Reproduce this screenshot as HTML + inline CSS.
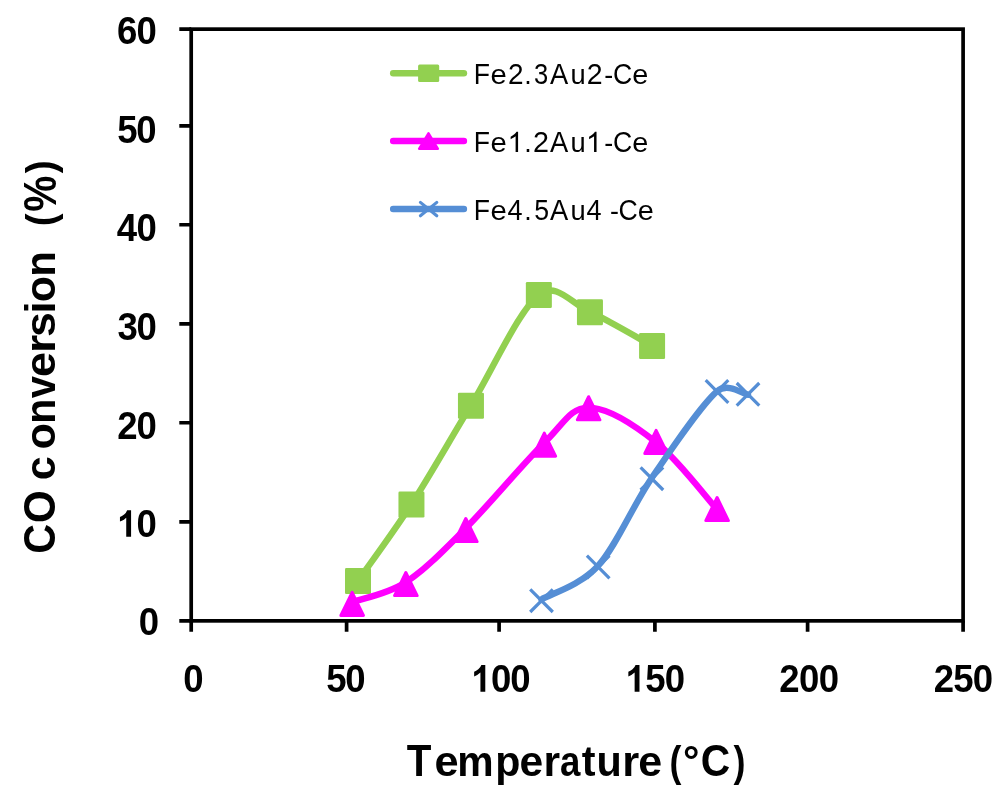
<!DOCTYPE html>
<html><head><meta charset="utf-8"><title>CO conversion vs temperature</title>
<style>
html,body{margin:0;padding:0;background:#fff;}
body{width:1000px;height:792px;overflow:hidden;font-family:"Liberation Sans",sans-serif;}
svg{display:block;position:absolute;left:0;top:0;}
text{font-family:"Liberation Sans",sans-serif;fill:#000;font-kerning:none;white-space:pre;}
.b{font-weight:bold;}
</style></head><body>
<svg width="1000" height="792" viewBox="0 0 1000 792">
<rect x="0" y="0" width="1000" height="792" fill="#fff"/>
<g stroke="#000" stroke-width="3.70" fill="none">
<rect x="191.20" y="29.15" width="771.90" height="591.70"/>
<path d="M179.3 620.85H191.20M179.3 521.90H191.20M179.3 422.75H191.20M179.3 323.90H191.20M179.3 224.75H191.20M179.3 125.85H191.20M179.3 29.15H191.20M191.20 620.85V631.8M346.60 620.85V631.8M499.10 620.85V631.8M654.90 620.85V631.8M807.60 620.85V631.8M963.10 620.85V631.8"/>
</g>
<g opacity="0.999">
<text class="b" style="font-size:38.00px" transform="scale(0.9620 1)" x="121.69 141.86" y="44.20">60</text>
<text class="b" style="font-size:38.00px" transform="scale(0.9620 1)" x="121.91 141.76" y="143.00">50</text>
<text class="b" style="font-size:38.00px" transform="scale(0.9620 1)" x="121.25 141.86" y="241.30">40</text>
<text class="b" style="font-size:38.00px" transform="scale(0.9620 1)" x="122.20 141.86" y="340.10">30</text>
<text class="b" style="font-size:38.00px" transform="scale(0.9620 1)" x="121.76 141.86" y="438.60">20</text>
<path transform="translate(117.15 536.80) scale(0.03546 -0.03704)" d="M393 0H256V517Q181 447 79 413V537Q133 555 196 604Q259 653 282 719H393Z"/><text class="b" style="font-size:38.00px" transform="scale(0.9620 1)" x="141.86" y="536.80">0</text>
<text class="b" style="font-size:38.00px" transform="scale(0.9620 1)" x="144.35" y="635.20">0</text>
<text class="b" style="font-size:38.00px" transform="scale(0.9620 1)" x="190.40" y="691.70">0</text>
<text class="b" style="font-size:38.00px" transform="scale(0.9620 1)" x="339.06 358.91" y="691.70">50</text>
<path transform="translate(471.35 691.70) scale(0.03546 -0.03704)" d="M393 0H256V517Q181 447 79 413V537Q133 555 196 604Q259 653 282 719H393Z"/><text class="b" style="font-size:38.00px" transform="scale(0.9620 1)" x="510.33 530.42" y="691.70">00</text>
<path transform="translate(625.55 691.70) scale(0.03546 -0.03704)" d="M393 0H256V517Q181 447 79 413V537Q133 555 196 604Q259 653 282 719H393Z"/><text class="b" style="font-size:38.00px" transform="scale(0.9620 1)" x="670.72 690.92" y="691.70">50</text>
<text class="b" style="font-size:38.00px" transform="scale(0.9620 1)" x="810.12 830.61 851.11" y="691.70">200</text>
<text class="b" style="font-size:38.00px" transform="scale(0.9620 1)" x="970.72 990.96 1011.19" y="691.70">250</text>
<g class="b"><text transform="translate(406.77 776.15) scale(0.927 1)" font-size="43.5">T</text><text transform="translate(434.53 776.15) scale(1.033 1)" font-size="42.0">e</text><text transform="translate(457.33 776.15) scale(0.974 1)" font-size="42.0">m</text><text transform="translate(495.31 776.15) scale(0.980 1)" font-size="42.0">p</text><text transform="translate(519.56 776.15) scale(1.013 1)" font-size="42.0">e</text><text transform="translate(543.41 776.15) scale(1.016 1)" font-size="42.0">r</text><text transform="translate(559.95 776.15) scale(0.873 1)" font-size="42.0">a</text><text transform="translate(581.72 776.15) scale(0.984 1)" font-size="42.0">t</text><text transform="translate(596.46 776.15) scale(0.984 1)" font-size="42.0">u</text><text transform="translate(622.15 776.15) scale(1.039 1)" font-size="42.0">r</text><text transform="translate(638.15 776.15) scale(1.023 1)" font-size="42.0">e</text><text transform="translate(669.58 776.15) scale(0.850 1)" font-size="42.0">(</text><text transform="translate(683.12 776.15) scale(0.978 1)" font-size="42.0">°</text><text transform="translate(700.85 776.15) scale(0.937 1)" font-size="43.5">C</text><text transform="translate(733.59 776.15) scale(0.856 1)" font-size="42.0">)</text></g>
<g class="b"><text transform="translate(55.00 553.84) rotate(-90) scale(0.924 1)" font-size="44.6">C</text><text transform="translate(55.00 522.88) rotate(-90) scale(0.945 1)" font-size="44.6">O</text><text transform="translate(55.00 480.23) rotate(-90) scale(1.001 1)" font-size="43.0">c</text><text transform="translate(55.00 449.43) rotate(-90) scale(1.002 1)" font-size="43.0">o</text><text transform="translate(55.00 423.67) rotate(-90) scale(0.958 1)" font-size="43.0">n</text><text transform="translate(55.00 398.31) rotate(-90) scale(0.930 1)" font-size="43.0">v</text><text transform="translate(55.00 377.01) rotate(-90) scale(1.045 1)" font-size="43.0">e</text><text transform="translate(55.00 353.07) rotate(-90) scale(1.083 1)" font-size="43.0">r</text><text transform="translate(55.00 336.92) rotate(-90) scale(1.042 1)" font-size="43.0">s</text><text transform="translate(55.00 313.43) rotate(-90) scale(1.000 1)" font-size="43.0">i</text><text transform="translate(55.00 302.13) rotate(-90) scale(1.000 1)" font-size="43.0">o</text><text transform="translate(55.00 276.76) rotate(-90) scale(0.973 1)" font-size="43.0">n</text><text transform="translate(55.00 226.17) rotate(-90) scale(0.942 1)" font-size="41.0">(</text><text transform="translate(56.10 211.81) rotate(-90) scale(0.883 1)" font-size="46.0">%</text><text transform="translate(55.00 173.29) rotate(-90) scale(0.942 1)" font-size="41.0">)</text></g>
<g class=""><text transform="translate(473.80 84.20) scale(0.920 1)" font-size="28.9">F</text><text transform="translate(490.42 84.20) scale(1.090 1)" font-size="26.8">e</text><text transform="translate(508.02 84.20) scale(0.968 1)" font-size="28.9">2</text><text transform="translate(524.23 84.20) scale(1.000 1)" font-size="26.8">.</text><text transform="translate(533.89 84.20) scale(0.884 1)" font-size="28.9">3</text><text transform="translate(549.91 84.20) scale(0.945 1)" font-size="28.9">A</text><text transform="translate(570.55 84.20) scale(1.020 1)" font-size="26.8">u</text><text transform="translate(586.79 84.20) scale(0.987 1)" font-size="28.9">2</text><text transform="translate(604.29 84.20) scale(1.000 1)" font-size="26.8">-</text><text transform="translate(612.97 84.20) scale(0.923 1)" font-size="28.9">C</text><text transform="translate(632.20 84.20) scale(1.077 1)" font-size="26.8">e</text></g>
<g class=""><text transform="translate(473.80 151.95) scale(0.920 1)" font-size="28.9">F</text><text transform="translate(490.42 151.95) scale(1.090 1)" font-size="26.8">e</text><path transform="translate(507.58 151.95) scale(0.02817 -0.02817)" d="M373 0H285V560Q253 530 201 500Q150 470 109 455V540Q183 575 238 624Q293 673 316 719H373Z"/><text transform="translate(524.23 151.95) scale(1.000 1)" font-size="26.8">.</text><text transform="translate(533.08 151.95) scale(0.995 1)" font-size="28.9">2</text><text transform="translate(549.91 151.95) scale(0.945 1)" font-size="28.9">A</text><text transform="translate(570.55 151.95) scale(1.020 1)" font-size="26.8">u</text><path transform="translate(586.03 151.95) scale(0.02817 -0.02817)" d="M373 0H285V560Q253 530 201 500Q150 470 109 455V540Q183 575 238 624Q293 673 316 719H373Z"/><text transform="translate(604.29 151.95) scale(1.000 1)" font-size="26.8">-</text><text transform="translate(612.97 151.95) scale(0.923 1)" font-size="28.9">C</text><text transform="translate(632.20 151.95) scale(1.077 1)" font-size="26.8">e</text></g>
<g class=""><text transform="translate(473.80 219.80) scale(0.920 1)" font-size="28.9">F</text><text transform="translate(490.42 219.80) scale(1.090 1)" font-size="26.8">e</text><text transform="translate(507.50 219.80) scale(0.937 1)" font-size="28.9">4</text><text transform="translate(524.23 219.80) scale(1.000 1)" font-size="26.8">.</text><text transform="translate(534.16 219.80) scale(0.923 1)" font-size="28.9">5</text><text transform="translate(549.91 219.80) scale(0.945 1)" font-size="28.9">A</text><text transform="translate(570.55 219.80) scale(1.020 1)" font-size="26.8">u</text><text transform="translate(586.50 219.80) scale(0.937 1)" font-size="28.9">4</text><text transform="translate(609.89 219.80) scale(1.000 1)" font-size="26.8">-</text><text transform="translate(618.57 219.80) scale(0.923 1)" font-size="28.9">C</text><text transform="translate(637.80 219.80) scale(1.077 1)" font-size="26.8">e</text></g>
</g>
<path d="M358.00 580.80C366.91 568.05 392.62 533.52 411.45 504.30C430.27 475.07 449.72 440.38 470.95 405.45C492.18 370.52 519.02 310.33 538.85 294.75C556.31 281.03 571.08 303.44 589.95 311.95C608.82 320.45 641.73 340.14 652.08 345.78" fill="none" stroke="#92d050" stroke-width="6.4" stroke-linecap="round" stroke-linejoin="round"/>
<rect x="345.00" y="568.10" width="26.0" height="26.0" rx="1.3" fill="#92d050"/>
<rect x="398.45" y="491.60" width="26.0" height="26.0" rx="1.3" fill="#92d050"/>
<rect x="457.95" y="392.75" width="26.0" height="26.0" rx="1.3" fill="#92d050"/>
<rect x="525.85" y="282.05" width="26.0" height="26.0" rx="1.3" fill="#92d050"/>
<rect x="576.95" y="299.25" width="26.0" height="26.0" rx="1.3" fill="#92d050"/>
<rect x="639.08" y="333.08" width="26.0" height="26.0" rx="1.3" fill="#92d050"/>
<path d="M352.15 602.00C361.10 598.70 386.91 594.50 405.85 582.20C424.79 569.90 442.73 551.43 465.80 528.20C488.88 504.97 523.83 462.90 544.30 442.80C564.43 423.03 569.97 407.68 588.60 407.60C607.23 407.52 634.68 425.30 656.10 442.30C677.52 459.30 706.93 498.38 717.10 509.60" fill="none" stroke="#ff00ff" stroke-width="6.4" stroke-linecap="round" stroke-linejoin="round"/>
<path d="M352.15 592.30L363.45 615.40L340.85 615.40ZM405.85 572.50L417.15 595.60L394.55 595.60ZM465.80 518.50L477.10 541.60L454.50 541.60ZM544.30 433.10L555.60 456.20L533.00 456.20ZM588.60 396.70L599.90 419.80L577.30 419.80ZM656.10 430.40L667.40 453.50L644.80 453.50ZM717.10 497.50L728.40 520.60L705.80 520.60Z" fill="#ff00ff" stroke="#ff00ff" stroke-width="3" stroke-linejoin="round"/>
<path d="M541.50 599.40C550.95 593.78 579.80 585.98 598.20 565.70C616.60 545.42 632.10 506.77 651.90 477.70C671.70 448.63 700.98 405.13 717.00 391.30C727.75 382.01 742.83 394.13 748.00 394.70" fill="none" stroke="#558ed5" stroke-width="6.4" stroke-linecap="round" stroke-linejoin="round"/>
<path d="M530.20 589.40L552.80 612.00M530.20 612.00L552.80 589.40M586.90 555.70L609.50 578.30M586.90 578.30L609.50 555.70M640.60 467.40L663.20 490.00M640.60 490.00L663.20 467.40M705.70 380.20L728.30 402.80M705.70 402.80L728.30 380.20M736.70 383.00L759.30 405.60M736.70 405.60L759.30 383.00" stroke="#558ed5" stroke-width="3.2" fill="none"/>
<line x1="393.2" y1="73.35" x2="463.9" y2="73.35" stroke="#92d050" stroke-width="6.5" stroke-linecap="round"/>
<line x1="393.2" y1="141.00" x2="463.9" y2="141.00" stroke="#ff00ff" stroke-width="6.5" stroke-linecap="round"/>
<line x1="393.2" y1="209.00" x2="463.9" y2="209.00" stroke="#558ed5" stroke-width="6.5" stroke-linecap="round"/>
<rect x="418.1" y="64.45" width="21.1" height="17.55" rx="1.5" fill="#92d050"/>
<path d="M428.5 133.1L438.0 148.8L419.0 148.8Z" fill="#ff00ff" stroke="#ff00ff" stroke-width="2.2" stroke-linejoin="round"/>
<path d="M420.4 202.4L436.8 215.8M420.4 215.8L436.8 202.4" stroke="#558ed5" stroke-width="3.1" stroke-linecap="round" fill="none"/>
</svg></body></html>
